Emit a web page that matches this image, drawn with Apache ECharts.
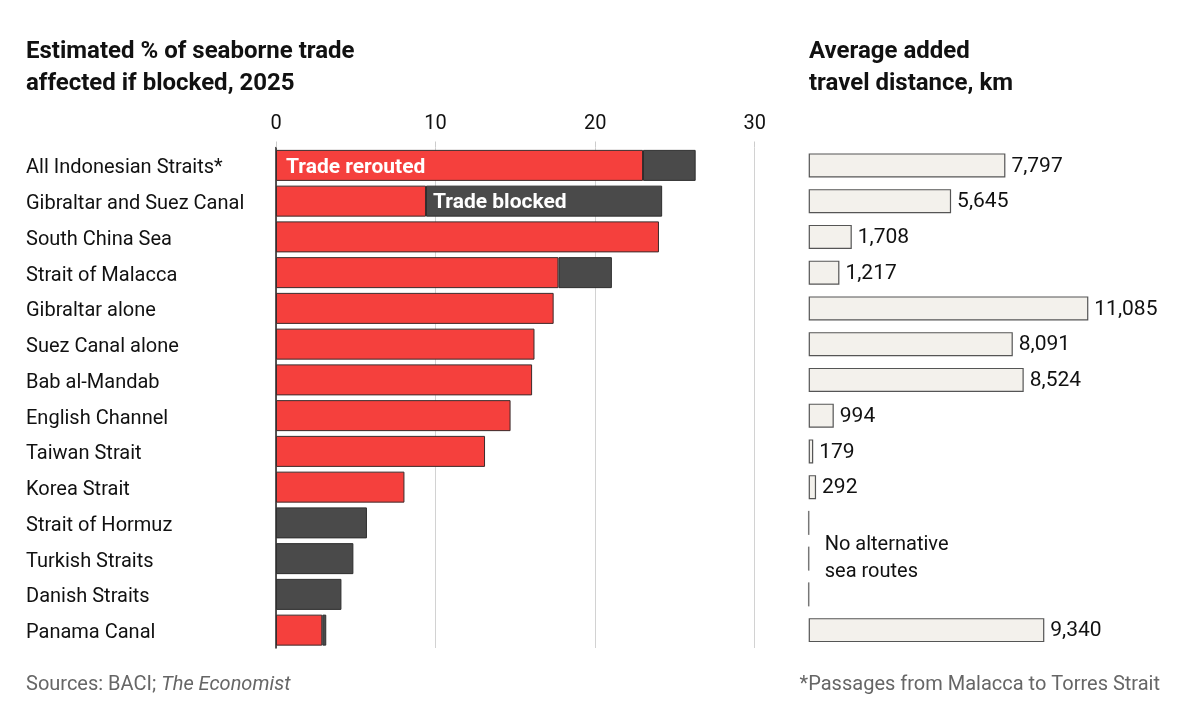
<!DOCTYPE html>
<html>
<head>
<meta charset="utf-8">
<script src="https://cdn.jsdelivr.net/npm/echarts@6/dist/echarts.min.js"></script>
<style>
  html, body { margin: 0; padding: 0; background: #fff; }
  #chart { width: 1200px; height: 722px; }
</style>
</head>
<body>
<div id="chart"></div>
<script>
var straits = ['All Indonesian Straits*', 'Gibraltar and Suez Canal', 'South China Sea', 'Strait of Malacca',
  'Gibraltar alone', 'Suez Canal alone', 'Bab al-Mandab', 'English Channel', 'Taiwan Strait',
  'Korea Strait', 'Strait of Hormuz', 'Turkish Straits', 'Danish Straits', 'Panama Canal'];
// % of seaborne trade
var rerouted = [23.0, 9.4, 24.0, 17.7, 17.4, 16.2, 16.05, 14.7, 13.1, 8.05, null, null, null, 2.9];
var blocked = [3.3, 14.8, null, 3.35, null, null, null, null, null, null, 5.7, 4.85, 4.1, 0.25];
// added travel distance, km (null = no alternative sea route)
var distance = [7797, 5645, 1708, 1217, 11085, 8091, 8524, 994, 179, 292, null, null, null, 9340];
var pctTicks = [0, 10, 20, 30];

var RED = '#f5403d', DARK = '#4a4a4a', FONT = 'Roboto, "Noto Sans", sans-serif';
var gridTop = 147.5, gridH = 500.5;

var chart = echarts.init(document.getElementById('chart'));

function comma(v) {
  return String(v).replace(/\B(?=(\d{3})+(?!\d))/g, ',');
}

var reroutedData = rerouted.map(function (v, i) {
  var d = { value: v };
  if (i === 0) d.label = { show: true };
  return d;
});
var blockedData = blocked.map(function (v, i) {
  var d = { value: v };
  if (i === 1) d.label = { show: true };
  return d;
});

var noRoute = [];
distance.forEach(function (v, i) { if (v === null) noRoute.push([0, i]); });
var midRow = noRoute[Math.floor(noRoute.length / 2)][1];

var titleStyle = { fontSize: 24, fontWeight: 'bold', color: '#111', lineHeight: 32, fontFamily: FONT };

var option = {
  backgroundColor: '#fff',
  animation: false,
  textStyle: { fontFamily: FONT },
  title: [
    { text: 'Estimated % of seaborne trade\naffected if blocked, 2025', left: 26, top: 36, padding: 0, textStyle: titleStyle },
    { text: 'Average added\ntravel distance, km', left: 809, top: 36, padding: 0, textStyle: titleStyle }
  ],
  grid: [
    { left: 276, right: 445.3, top: gridTop, height: gridH },
    { left: 808.7, right: 88.6, top: gridTop, height: gridH }
  ],
  xAxis: [
    { gridIndex: 0, type: 'value', position: 'top', min: pctTicks[0], max: pctTicks[pctTicks.length - 1], interval: 10,
      axisLine: { show: false },
      axisTick: { show: true, length: 6, lineStyle: { color: '#ccc' } },
      splitLine: { show: true, lineStyle: { color: '#d2d2d2', width: 1 } },
      axisLabel: { fontSize: 20, color: '#111', margin: 14 } },
    { gridIndex: 1, type: 'value', min: 0, max: 12000, show: false }
  ],
  yAxis: [
    { gridIndex: 0, type: 'category', data: straits, inverse: true,
      axisLine: { show: true, lineStyle: { color: '#222', width: 1.5 } },
      axisTick: { show: false },
      axisLabel: { align: 'left', margin: 250,
        formatter: function (v) { return '{c|' + v + '}'; },
        rich: { c: { fontSize: 20, color: '#111', padding: [6, 0, 0, 0] } } } },
    { gridIndex: 1, type: 'category', data: straits, inverse: true, show: false }
  ],
  series: [
    { name: 'Trade rerouted', type: 'bar', stack: 'pct', barWidth: 31, data: reroutedData,
      itemStyle: { color: RED, borderColor: '#3b2b2b', borderWidth: 1 },
      label: { show: false, position: 'insideLeft', distance: 10, formatter: '{a}', offset: [0, 2],
        color: '#fff', fontWeight: 'bold', fontSize: 21 } },
    { name: 'Trade blocked', type: 'bar', stack: 'pct', barWidth: 31, data: blockedData,
      itemStyle: { color: DARK, borderColor: '#2e2e2e', borderWidth: 1 },
      label: { show: false, position: 'insideLeft', distance: 7, formatter: '{a}', offset: [0, 2],
        color: '#fff', fontWeight: 'bold', fontSize: 21 } },
    { name: 'Distance', type: 'bar', xAxisIndex: 1, yAxisIndex: 1, barWidth: 24, data: distance,
      itemStyle: { color: '#f3f1ec', borderColor: '#555', borderWidth: 1.2 },
      label: { show: true, position: 'right', distance: 6, fontSize: 21, color: '#111', offset: [0, 1],
        formatter: function (p) { return comma(p.value); } } },
    { name: 'No route', type: 'custom', xAxisIndex: 1, yAxisIndex: 1, data: noRoute,
      renderItem: function (params, api) {
        var p = api.coord([api.value(0), api.value(1)]);
        var children = [{ type: 'line', shape: { x1: p[0], y1: p[1] - 12, x2: p[0], y2: p[1] + 12 },
          style: { stroke: '#777', lineWidth: 1.5 } }];
        if (api.value(1) === midRow) {
          children.push({ type: 'text', style: { text: 'No alternative\nsea routes', x: p[0] + 16, y: p[1],
            verticalAlign: 'middle', fill: '#111', font: '20px ' + FONT, lineHeight: 27 } });
        }
        return { type: 'group', children: children };
      } }
  ],
  graphic: [
    { type: 'text', left: 26, top: 675, style: {
        text: '{n|Sources: BACI; }{i|The Economist}', fill: '#666',
        rich: { n: { fontSize: 20, fill: '#666', fontFamily: FONT }, i: { fontSize: 20, fill: '#666', fontStyle: 'italic', fontFamily: FONT } } } },
    { type: 'text', right: 40, top: 675, style: {
        text: '*Passages from Malacca to Torres Strait', fill: '#666', fontSize: 20, fontFamily: FONT } }
  ]
};
chart.setOption(option);
</script>
</body>
</html>
